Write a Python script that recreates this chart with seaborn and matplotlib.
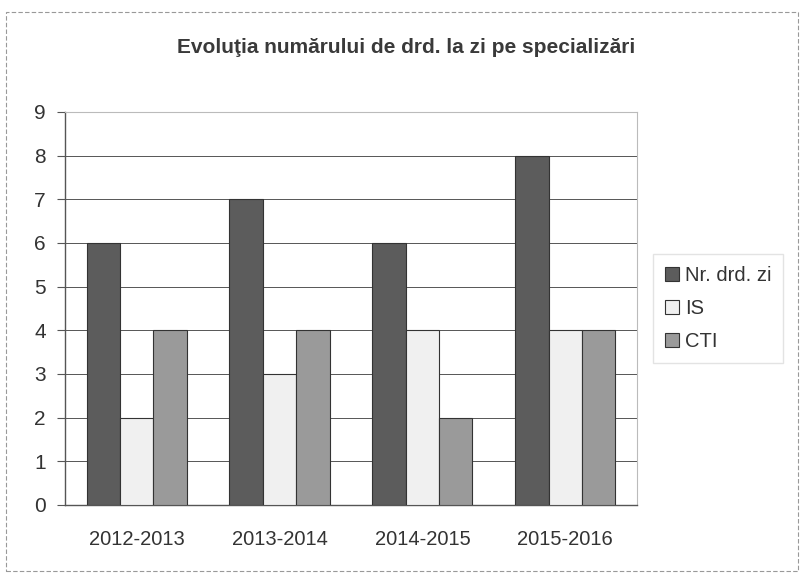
import matplotlib
matplotlib.use("Agg")
import matplotlib.pyplot as plt
import seaborn as sns
import pandas as pd
from matplotlib.patches import Rectangle

categories = ["2012-2013", "2013-2014", "2014-2015", "2015-2016"]
series_names = ["Nr. drd. zi", "IS", "CTI"]
nr_drd_zi = [6, 7, 6, 8]
is_vals = [2, 3, 4, 4]
cti_vals = [4, 4, 2, 4]
y_ticks = [0, 1, 2, 3, 4, 5, 6, 7, 8, 9]
title = "Evoluţia numărului de drd. la zi pe specializări"

rows = []
for name, vals in zip(series_names, [nr_drd_zi, is_vals, cti_vals]):
    for c, v in zip(categories, vals):
        rows.append({"Perioada": c, "Serie": name, "Valoare": v})
df = pd.DataFrame(rows)

sns.set_style("white")
plt.rcParams['font.family'] = ['Liberation Sans', 'DejaVu Sans']

fig = plt.figure(figsize=(8.04, 5.83), dpi=100)
ax = fig.add_axes([0.081, 0.134, 0.711, 0.674])

palette = {"Nr. drd. zi": "#5c5c5c", "IS": "#f0f0f0", "CTI": "#9a9a9a"}
sns.barplot(data=df, x="Perioada", y="Valoare", hue="Serie", palette=palette,
            width=0.7, edgecolor="#333333", linewidth=0.8, ax=ax, saturation=1,
            errorbar=None, zorder=3)

ax.set_ylim(0, 9)
ax.set_xlim(-0.5, 3.5)
ax.set_yticks(y_ticks)
ax.set_yticklabels([str(t) for t in y_ticks], fontsize=15, color="#333333")
ax.tick_params(axis="x", labelsize=14.5, colors="#333333", length=0, pad=18)
ax.tick_params(axis="y", length=6, left=True, color="#555555", pad=8)
ax.set_xlabel("")
ax.set_ylabel("")
ax.yaxis.grid(True, color="#555555", linewidth=0.7, zorder=0)
ax.set_axisbelow(True)
for s in ["left", "bottom"]:
    ax.spines[s].set_color("#555555")
    ax.spines[s].set_linewidth(1.0)
for s in ["top", "right"]:
    ax.spines[s].set_color("#bbbbbb")
    ax.spines[s].set_linewidth(0.8)

fig.suptitle(title, x=0.505, y=0.935, fontsize=15, fontweight="bold", color="#3a3a3a")

handles, labels = ax.get_legend_handles_labels()
ax.legend(handles, labels, loc="center left", bbox_to_anchor=(1.01, 0.5),
          frameon=True, fontsize=14.5, handlelength=0.7, handleheight=0.7,
          handletextpad=0.3, labelspacing=0.7, edgecolor="#dddddd",
          fancybox=False, borderpad=0.6, labelcolor="#333333")

fig.patches.append(Rectangle((0.008, 0.02), 0.985, 0.96, transform=fig.transFigure,
                             fill=False, edgecolor="#999999", linewidth=0.8,
                             linestyle=(0, (4, 2))))

fig.savefig("out.png", dpi=100)
